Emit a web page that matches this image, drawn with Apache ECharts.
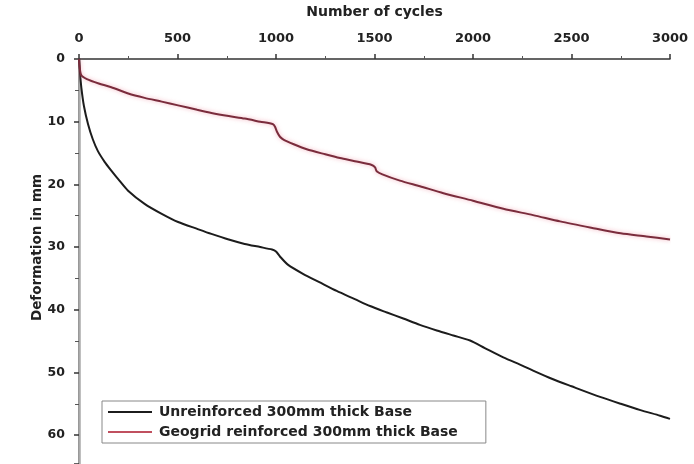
<!DOCTYPE html>
<html>
<head>
<meta charset="utf-8">
<script src="https://cdn.jsdelivr.net/npm/echarts@6/dist/echarts.min.js"></script>
<style>
  html, body { margin: 0; padding: 0; background: #fff; }
  #chart { width: 694px; height: 464px; }
</style>
</head>
<body>
<div id="chart"></div>
<script>
// Deformation under repeated loading, unreinforced vs geogrid-reinforced base
const seriesNames = ['Unreinforced 300mm thick Base', 'Geogrid reinforced 300mm thick Base'];

const unreinforcedCycles = [0, 5, 12, 25, 46, 70, 96, 130, 164, 200, 249, 333, 420, 503, 600, 672, 760, 841, 920, 980, 1000, 1020, 1060, 1139, 1220, 1308, 1400, 1477, 1560, 1646, 1730, 1816, 1900, 1985, 2060, 2154, 2250, 2305, 2400, 2500, 2645, 2750, 2850, 2950, 3000];
const unreinforcedDef = [0, 2.2, 4.6, 7.5, 10.4, 12.8, 14.7, 16.4, 17.8, 19.2, 21.0, 23.1, 24.7, 26.0, 27.1, 27.9, 28.8, 29.5, 30.0, 30.4, 30.7, 31.5, 32.8, 34.3, 35.6, 37.0, 38.3, 39.4, 40.4, 41.4, 42.4, 43.3, 44.1, 44.9, 46.1, 47.6, 48.9, 49.7, 51.0, 52.2, 53.9, 55.0, 56.0, 56.9, 57.4];

const geogridCycles = [0, 3, 12, 40, 100, 164, 250, 333, 420, 503, 600, 672, 760, 841, 920, 985, 995, 1005, 1020, 1040, 1090, 1156, 1250, 1325, 1400, 1486, 1503, 1511, 1540, 1629, 1731, 1850, 2000, 2154, 2305, 2442, 2600, 2750, 2880, 3000];
const geogridDef = [0, 1.2, 2.6, 3.2, 3.9, 4.5, 5.5, 6.2, 6.8, 7.4, 8.1, 8.6, 9.1, 9.5, 10.0, 10.4, 10.8, 11.6, 12.4, 12.9, 13.6, 14.4, 15.2, 15.8, 16.3, 16.9, 17.3, 17.9, 18.4, 19.4, 20.3, 21.4, 22.6, 23.9, 24.9, 25.9, 26.9, 27.8, 28.3, 28.8];

const pairs = (xs, ys) => xs.map((x, i) => [x, ys[i]]);

const font = 'DejaVu Sans';
const inkColor = '#1c1c1c';
const geogridColor = '#7a2c3c';
const chart = echarts.init(document.getElementById('chart'), null, { renderer: 'canvas' });

chart.setOption({
  animation: false,
  backgroundColor: '#fff',
  grid: { left: 79, right: 24, top: 57, bottom: 0, containLabel: false },
  xAxis: {
    type: 'value',
    position: 'top',
    min: 0, max: 3000, interval: 500,
    name: 'Number of cycles',
    nameLocation: 'middle',
    nameGap: 40,
    nameTextStyle: { fontFamily: font, fontWeight: 'bold', fontSize: 14, color: '#222' },
    axisLine: { show: true, lineStyle: { color: '#333', width: 1.5 } },
    axisTick: { show: true, inside: false, length: 5, lineStyle: { color: '#333', width: 1.5 } },
    minorTick: { show: true, splitNumber: 2, length: 3, lineStyle: { color: '#555' } },
    axisLabel: {
      fontFamily: font, fontWeight: 'bold', fontSize: 13, color: '#222', margin: 14,
      formatter: v => String(v)
    },
    splitLine: { show: false }
  },
  yAxis: [{
    type: 'value',
    inverse: true,
    min: 0, max: 64.6, interval: 10,
    name: 'Deformation in mm',
    nameLocation: 'middle',
    nameGap: 35,
    nameMoveOverlap: false,
    nameRotate: 90,
    nameTextStyle: { fontFamily: font, fontWeight: 'bold', fontSize: 13.5, color: '#222', padding: [0, 0, 0, 28] },
    axisLine: { show: true, onZero: false, lineStyle: { color: '#333', width: 1.5 } },
    axisTick: { show: true, inside: false, length: 5, lineStyle: { color: '#333', width: 1.5 } },
    minorTick: { show: true, splitNumber: 2, length: 4, lineStyle: { color: '#555' } },
    axisLabel: {
      fontFamily: font, fontWeight: 'bold', fontSize: 12.5, color: '#222', margin: 14,
      showMaxLabel: false,
      formatter: v => (v % 10 === 0 ? String(v) : '')
    },
    splitLine: { show: false }
  }, {
    type: 'value',
    position: 'right',
    inverse: true,
    min: 0, max: 64.6,
    axisLine: { show: true, lineStyle: { color: '#aaa', width: 2.5 } },
    axisTick: { show: false },
    axisLabel: { show: false },
    splitLine: { show: false }
  }],
  legend: {
    orient: 'vertical',
    left: 102,
    top: 401,
    padding: [4, 28, 4, 6],
    itemGap: 6,
    itemWidth: 44,
    itemHeight: 2,
    icon: 'rect',
    borderColor: '#888',
    borderWidth: 1,
    textStyle: { fontFamily: font, fontWeight: 'bold', fontSize: 14, color: '#222', padding: [0, 0, 0, 2] },
    data: seriesNames
  },
  series: [{
    name: seriesNames[0],
    type: 'line',
    data: pairs(unreinforcedCycles, unreinforcedDef),
    symbol: 'none',
    smooth: 0.25,
    lineStyle: { color: inkColor, width: 2 },
    itemStyle: { color: inkColor }
  }, {
    name: seriesNames[1],
    type: 'line',
    data: pairs(geogridCycles, geogridDef),
    symbol: 'none',
    smooth: 0.25,
    lineStyle: { color: geogridColor, width: 2, shadowColor: 'rgba(235,120,140,0.6)', shadowBlur: 4 },
    itemStyle: { color: '#c0505f' }
  }]
});
</script>
</body>
</html>
